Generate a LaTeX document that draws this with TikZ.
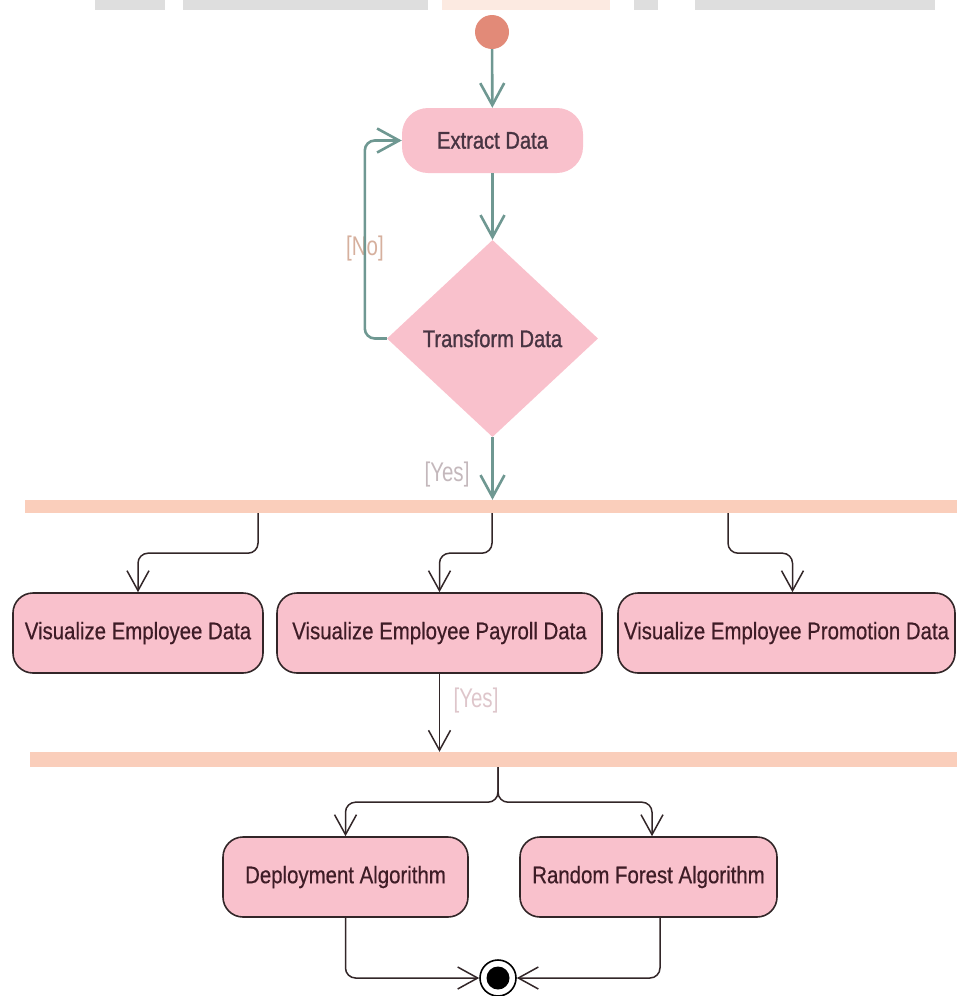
\documentclass[tikz,border=0pt]{standalone}
\usepackage{xcolor}
\usepackage{fontspec}
\setmainfont{Liberation Sans}
\newfontfamily\actfont[FakeStretch=0.85,FakeBold=0.5]{Liberation Sans}
\newfontfamily\topfont[FakeStretch=0.84,FakeBold=1.1]{Liberation Sans}
\newfontfamily\guardfont[FakeStretch=0.76]{Liberation Sans}
\usepackage{tikz}
\usetikzlibrary{arrows.meta,positioning,shapes.geometric}

\definecolor{flowteal}{RGB}{111,152,146}
\definecolor{actpink}{RGB}{249,193,204}
\definecolor{barpeach}{RGB}{250,206,187}
\definecolor{startred}{RGB}{226,138,120}
\definecolor{toptext}{RGB}{72,52,66}
\definecolor{boxtext}{RGB}{62,28,38}
\definecolor{boxline}{RGB}{50,38,40}
\definecolor{notan}{RGB}{214,176,158}
\definecolor{yesgray}{RGB}{196,184,188}
\definecolor{yespink}{RGB}{222,198,203}
\definecolor{wmgray}{RGB}{222,222,222}
\definecolor{wmpeach}{RGB}{252,234,225}

\begin{document}
\begin{tikzpicture}[
    x=1pt, y=-1pt,
    act/.style={fill=actpink, rounded corners=26pt, inner sep=0pt, minimum width=181pt, minimum height=65pt, text=toptext, font=\topfont\fontsize{24}{28}\selectfont},
    decision/.style={diamond, fill=actpink, inner sep=0pt, minimum width=211pt, minimum height=197pt, text=toptext, font=\topfont\fontsize{24}{28}\selectfont},
    box/.style={draw=boxline, line width=1.6pt, fill=actpink, rounded corners=20pt, inner sep=0pt, minimum height=80pt, text=boxtext, font=\actfont\fontsize{24}{28}\selectfont},
    forkbar/.style={fill=barpeach, inner sep=0pt, minimum height=13pt},
    guard/.style={font=\guardfont\fontsize{27}{30}\selectfont, inner sep=0pt},
    tealarr/.style={draw=flowteal, line width=2.6pt, -{Straight Barb[length=22pt, width=24pt]}},
    blkarr/.style={draw=boxline, line width=1.5pt, rounded corners=10pt, -{Straight Barb[length=20pt, width=22pt]}}
  ]
    \useasboundingbox (0,0) rectangle (957,996);

    % cropped watermark at the top edge
    \fill[wmgray] (95,0) rectangle (165,10);
    \fill[wmgray] (183,0) rectangle (428,10);
    \fill[wmpeach] (442,0) rectangle (610,10);
    \fill[wmgray] (634,0) rectangle (658,10);
    \fill[wmgray] (695,0) rectangle (935,10);

    \node[circle, fill=startred, minimum size=34pt, inner sep=0pt] (start) at (492,32) {};
    \node[act] (extract) at (492.5,140.5) {Extract Data};
    \node[decision] (transform) at (492.5,338.5) {Transform Data};

    \node[forkbar, minimum width=932pt] (fork1) at (491,506.5) {};

    \node[box, minimum width=250pt] (vis1) at (138,633) {Visualize Employee Data};
    \node[box, minimum width=325pt] (vis2) at (439.5,633) {Visualize Employee Payroll Data};
    \node[box, minimum width=337pt] (vis3) at (786.5,633) {Visualize Employee Promotion Data};

    \node[forkbar, minimum width=927pt, minimum height=15pt] (fork2) at (493.5,759.5) {};

    \node[box, minimum width=245pt] (deploy) at (345.5,877) {Deployment Algorithm};
    \node[box, minimum width=257pt] (forest) at (648.5,877) {Random Forest Algorithm};

    \node[circle, draw=black, line width=1.6pt, fill=white, minimum size=36pt, inner sep=0pt] (final) at (498,978) {};
    \fill[black] (final.center) circle (11.5pt);

    \node[guard, text=notan] (nolabel) at (365,249) {[No]};
    \node[guard, text=yesgray] (yes1) at (447,475) {[Yes]};
    \node[guard, text=yespink] (yes2) at (476,701) {[Yes]};

    \draw[tealarr] (start) -- (extract);
    \draw[tealarr] (extract) -- (transform);
    \draw[tealarr, rounded corners=10pt] (transform.west) -- ++(-22,0) |- (extract.west);
    \draw[tealarr] (transform.south) -- (transform.south |- fork1.north);

    \draw[blkarr] ([xshift=-233pt]fork1.south) -- ++(0,40) -| (vis1.north);
    \draw[blkarr] ([xshift=1pt]fork1.south) -- ++(0,40) -| (vis2.north);
    \draw[blkarr] ([xshift=237pt]fork1.south) -- ++(0,40) -| ([xshift=6pt]vis3.north);

    \draw[blkarr] (vis2.south) -- (vis2.south |- fork2.north);

    \draw[blkarr] ([xshift=4.5pt]fork2.south) -- ++(0,35) -| (deploy.north);
    \draw[blkarr] ([xshift=4.5pt]fork2.south) -- ++(0,35) -| ([xshift=3.5pt]forest.north);

    \draw[blkarr] (deploy.south) |- (final.west);
    \draw[blkarr] ([xshift=11.5pt]forest.south) |- (final.east);
  \end{tikzpicture}
\end{document}
